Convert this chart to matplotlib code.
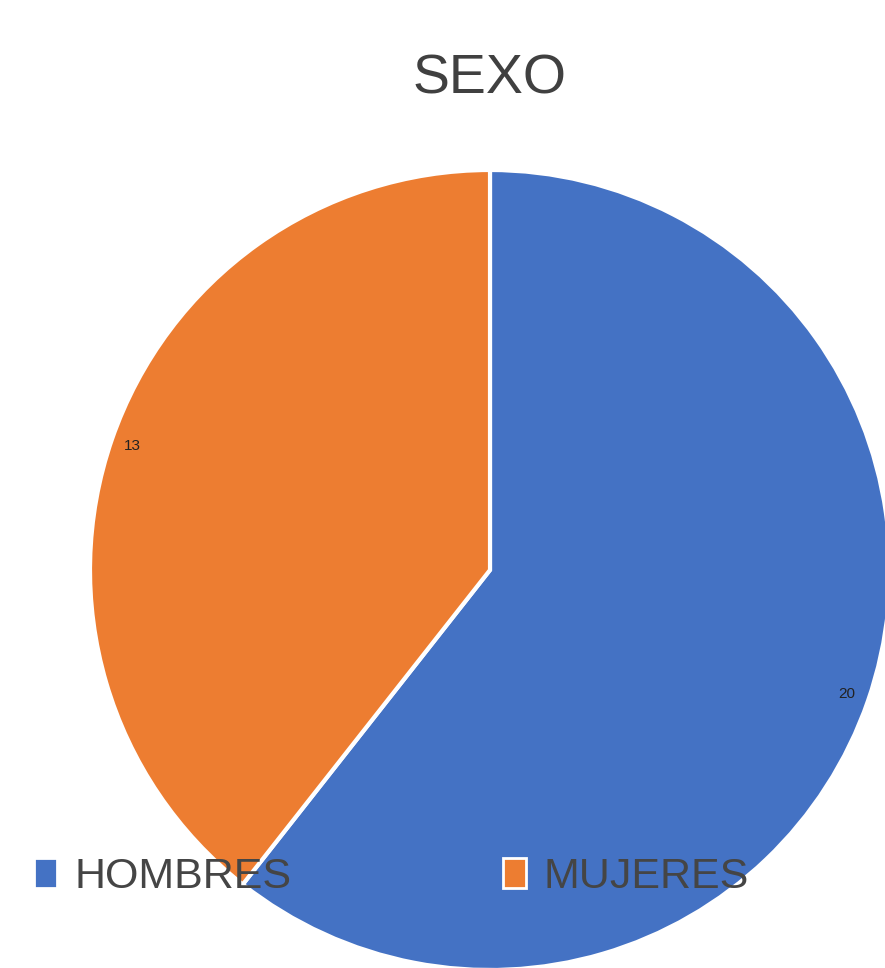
import matplotlib
matplotlib.use('Agg')
import matplotlib.pyplot as plt
from matplotlib.patches import Patch

plt.rcParams['font.family'] = ['Liberation Sans', 'DejaVu Sans']

categorias = ['HOMBRES', 'MUJERES']
valores = [20, 13]
colores = ['#4472C4', '#ED7D31']

fig = plt.figure(figsize=(8.85, 9.68), dpi=100)
# pie centred at (490, 570) px, radius 400 px
ax = fig.add_axes([90/885, -2/968, 800/885, 800/968])
ax.pie(valores, colors=colores, startangle=90, counterclock=False,
       radius=1, autopct=lambda p: '{:.0f}'.format(p*sum(valores)/100),
       pctdistance=0.945, textprops={'fontsize': 11, 'color': '#222222'},
       wedgeprops={'edgecolor': 'white', 'linewidth': 3})
ax.set_xlim(-1, 1)
ax.set_ylim(-1, 1)
ax.set_aspect('equal')
ax.axis('off')

fig.text(490/885, 1-80/968, 'SEXO', ha='center', va='center',
         fontsize=40, color='#404040')

handles = [Patch(facecolor=c, edgecolor='white', linewidth=2) for c in colores]
fig.legend(handles, categorias, loc='center left', bbox_to_anchor=(0.038, 0.094),
           ncol=2, frameon=False, fontsize=31, handlelength=0.55, handleheight=0.7,
           handletextpad=0.4, columnspacing=4.9, labelcolor='#454545',
           borderaxespad=0, borderpad=0)

fig.savefig('out.png', dpi=100)
